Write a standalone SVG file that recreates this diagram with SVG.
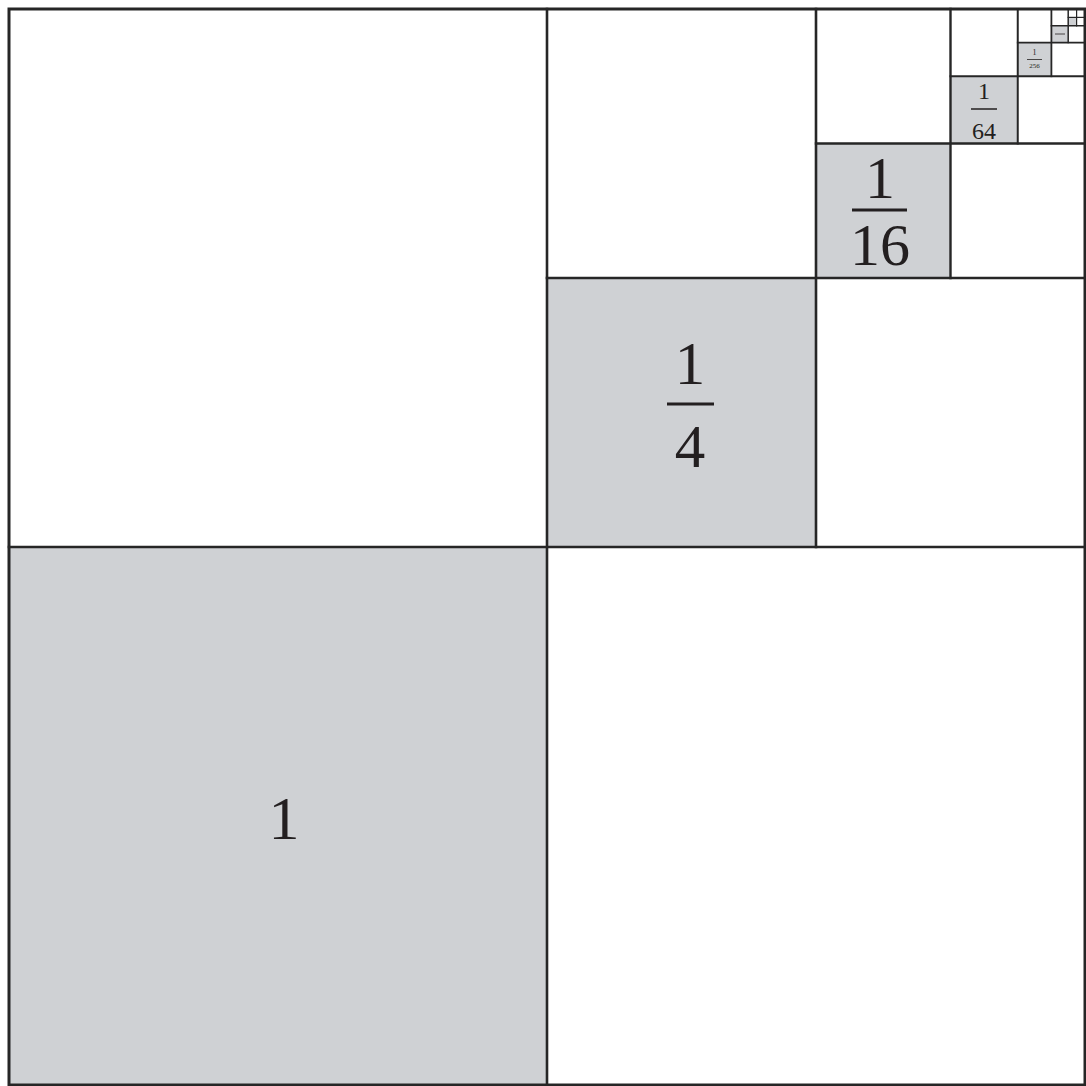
<svg xmlns="http://www.w3.org/2000/svg" width="1086" height="1086" viewBox="0 0 1086 1086">
<style>
.sh{fill:#cfd1d4;stroke:none}
.ln{stroke:#262626;fill:none;stroke-linecap:square}
.t{font-family:"Liberation Serif","Times New Roman",serif;fill:#231f20;text-anchor:middle}
.bar{stroke:#231f20}
</style>
<rect x="0" y="0" width="1086" height="1086" fill="#ffffff"/>
<g id="n1">
<rect class="sh" x="9" y="547" width="538" height="538"/>
<text class="t" x="284" y="839" font-size="62">1</text>
</g>
<g id="n4">
<rect class="sh" x="547" y="278" width="269" height="269"/>
<text class="t" x="690" y="384" font-size="61">1</text>
<line class="bar" x1="667" y1="404" x2="714" y2="404" stroke-width="3"/>
<text class="t" x="690" y="467" font-size="61">4</text>
</g>
<g id="n16">
<rect class="sh" x="816" y="143.5" width="134.5" height="134.5"/>
<text class="t" x="880" y="198" font-size="60">1</text>
<line class="bar" x1="852" y1="210" x2="907" y2="210" stroke-width="3"/>
<text class="t" x="880" y="265" font-size="60">16</text>
</g>
<g id="n64">
<rect class="sh" x="950.5" y="76.25" width="67.25" height="67.25"/>
<text class="t" x="984" y="99" font-size="24">1</text>
<line class="bar" x1="971" y1="109" x2="997" y2="109" stroke-width="1.5"/>
<text class="t" x="984" y="139" font-size="24">64</text>
</g>
<g id="n256">
<rect class="sh" x="1017.75" y="42.6" width="33.6" height="33.6"/>
<text class="t" x="1034.5" y="55" font-size="8">1</text>
<line class="bar" x1="1027" y1="59.5" x2="1042" y2="59.5" stroke-width="0.8"/>
<text class="t" x="1034.5" y="68" font-size="7">256</text>
</g>
<g id="n1024">
<rect class="sh" x="1051.4" y="25.8" width="16.8" height="16.8"/>
<line class="bar" x1="1055" y1="34" x2="1065" y2="34" stroke-width="0.8"/>
</g>
<g id="n4096">
<rect class="sh" x="1068.2" y="17.4" width="8.4" height="8.4"/>
</g>
<g id="connectors">
<rect class="ln" x="9" y="9" width="1076" height="1076" stroke-width="3"/>
<line class="ln" x1="547" y1="9" x2="547" y2="1085" stroke-width="2.6"/>
<line class="ln" x1="9" y1="547" x2="1085" y2="547" stroke-width="2.6"/>
<line class="ln" x1="816" y1="9" x2="816" y2="547" stroke-width="2.6"/>
<line class="ln" x1="547" y1="278" x2="1085" y2="278" stroke-width="2.6"/>
<line class="ln" x1="950.5" y1="9" x2="950.5" y2="278" stroke-width="2.4"/>
<line class="ln" x1="816" y1="143.5" x2="1085" y2="143.5" stroke-width="2.4"/>
<line class="ln" x1="1017.75" y1="9" x2="1017.75" y2="143.5" stroke-width="2"/>
<line class="ln" x1="950.5" y1="76.25" x2="1085" y2="76.25" stroke-width="2"/>
<line class="ln" x1="1051.4" y1="9" x2="1051.4" y2="76.25" stroke-width="1.8"/>
<line class="ln" x1="1017.75" y1="42.6" x2="1085" y2="42.6" stroke-width="1.8"/>
<line class="ln" x1="1068.2" y1="9" x2="1068.2" y2="42.6" stroke-width="1.5"/>
<line class="ln" x1="1051.4" y1="25.8" x2="1085" y2="25.8" stroke-width="1.5"/>
<line class="ln" x1="1076.6" y1="9" x2="1076.6" y2="25.8" stroke-width="1.2"/>
<line class="ln" x1="1068.2" y1="17.4" x2="1085" y2="17.4" stroke-width="1.2"/>
</g>
</svg>
